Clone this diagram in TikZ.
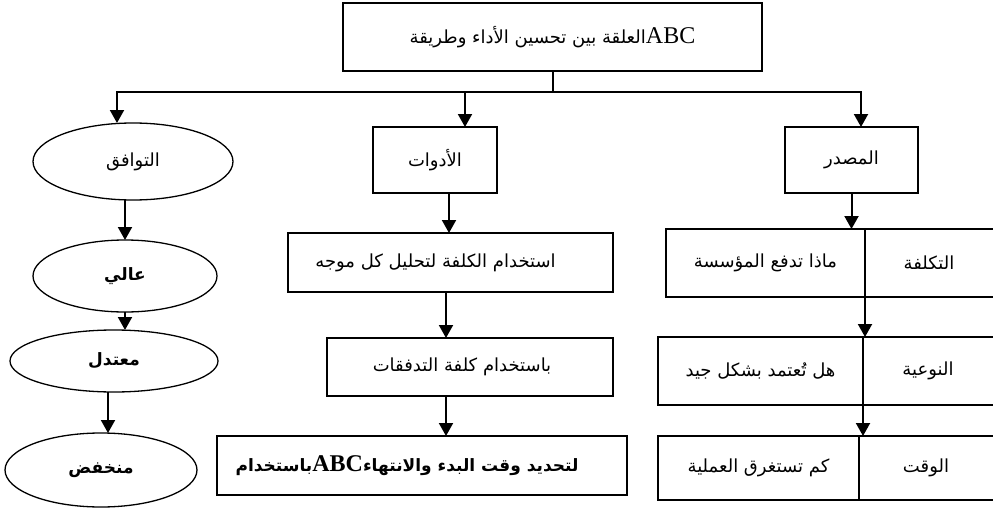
\documentclass[tikz,border=0pt]{standalone}
\usepackage{fontspec}
\setmainfont{Liberation Serif}
\newfontfamily\arabicfont[Script=Arabic]{DejaVu Sans}
\TeXXeTstate=1
\usetikzlibrary{arrows.meta,shapes.geometric}

\begin{document}
\begin{tikzpicture}[x=1pt,y=-1pt,
  box/.style={draw,line width=1.8pt,rectangle,inner sep=0pt,outer sep=0pt,
    font=\arabicfont\fontsize{18}{20}\selectfont},
  cell/.style={box,line width=1.6pt},
  oval/.style={draw,ellipse,line width=1.3pt,inner sep=0pt,outer sep=0pt,
    font=\arabicfont\fontsize{18}{20}\selectfont},
  strong/.style={font=\arabicfont\bfseries\fontsize{17}{20}\selectfont},
  conn/.style={line width=2pt,-{Triangle[width=14pt,length=13pt]}}
]
\useasboundingbox (0,0) rectangle (993,511);
\clip (0,0) rectangle (993,511);

% title
\node[box,minimum width=419pt,minimum height=68pt] (top) at (552.5,37)
  {\beginR العلقة بين تحسين الأداء وطريقة\endR{\rmfamily\fontsize{24}{24}\selectfont ABC}};

% left column: ovals
\node[oval,minimum width=200pt,minimum height=77pt] (ell1) at (133,161.5)
  {\beginR التوافق\endR};
\node[oval,strong,minimum width=184pt,minimum height=72pt] (ell2) at (125,276)
  {\beginR عالي\endR};
\node[oval,strong,minimum width=208pt,minimum height=62pt] (ell3) at (114,361)
  {\beginR معتدل\endR};
\node[oval,strong,minimum width=192pt,minimum height=74pt] (ell4) at (101,470)
  {\beginR منخفض\endR};

% middle column
\node[box,minimum width=124pt,minimum height=66pt] (tools) at (435,160)
  {\beginR الأدوات\endR};
\node[box,minimum width=325pt,minimum height=59pt] (use1) at (450.5,262.5)
  {\beginR استخدام الكلفة لتحليل كل موجه\endR\hspace*{30pt}};
\node[box,minimum width=286pt,minimum height=58pt] (use2) at (470,367)
  {\beginR باستخدام كلفة التدفقات\endR\hspace*{16pt}};
\node[box,strong,minimum width=410pt,minimum height=59pt] (use3) at (422,465.5)
  {\beginR باستخدام\endR{\rmfamily\bfseries\fontsize{24}{24}\selectfont ABC}\beginR لتحديد وقت البدء والانتهاء\endR\hspace*{30pt}};

% right column
\node[box,minimum width=133pt,minimum height=66pt] (src) at (851.5,160)
  {\beginR المصدر\endR};
\node[cell,minimum width=199pt,minimum height=68pt] (r1a) at (765.5,263)
  {\beginR ماذا تدفع المؤسسة\endR};
\node[cell,minimum width=140pt,minimum height=68pt] (r1b) at (935,263)
  {\beginR التكلفة\endR\hspace*{12pt}};
\node[cell,minimum width=205pt,minimum height=68pt] (r2a) at (760.5,371)
  {\beginR هل تُعتمد بشكل جيد\endR};
\node[cell,minimum width=142pt,minimum height=68pt] (r2b) at (934,371)
  {\beginR النوعية\endR\hspace*{12pt}};
\node[cell,minimum width=201pt,minimum height=64pt] (r3a) at (758.5,468)
  {\beginR كم تستغرق العملية\endR};
\node[cell,minimum width=146pt,minimum height=64pt] (r3b) at (932,468)
  {\beginR الوقت\endR\hspace*{12pt}};

% branching from the title
\coordinate (busM) at (465,92);
\coordinate (busL) at (117,92);
\coordinate (busR) at (861,92);
\draw[line width=2pt] (top.south) -- (top.south |- busM);
\draw[conn] (busM) -- (busL) -- (busL |- ell1.north);
\draw[conn] (busM) -- (busM |- tools.north);
\draw[conn] (busM) -- (busR) -- (busR |- src.north);

% left chain
\draw[conn] (ell1.south -| ell2.north) -- (ell2.north);
\draw[conn] (ell2.south) -- (ell2.south |- ell3.north);
\draw[conn] ([xshift=-6pt]ell3.south) -- ([xshift=-6pt]ell3.south |- ell4.north);

% middle chain
\draw[conn] ([xshift=14pt]tools.south) -- ([xshift=14pt]tools.south |- use1.north);
\draw[conn] ([xshift=-4.5pt]use1.south) -- ([xshift=-4.5pt]use1.south |- use2.north);
\draw[conn] ([xshift=-24pt]use2.south) -- ([xshift=-24pt]use2.south |- use3.north);

% right chain
\draw[conn] (src.south) -- (src.south |- r1a.north);
\draw[conn] (r1a.south east) -- (r1a.south east |- r2a.north);
\draw[conn] (r2a.south east) -- (r2a.south east |- r3a.north);
\end{tikzpicture}
\end{document}
